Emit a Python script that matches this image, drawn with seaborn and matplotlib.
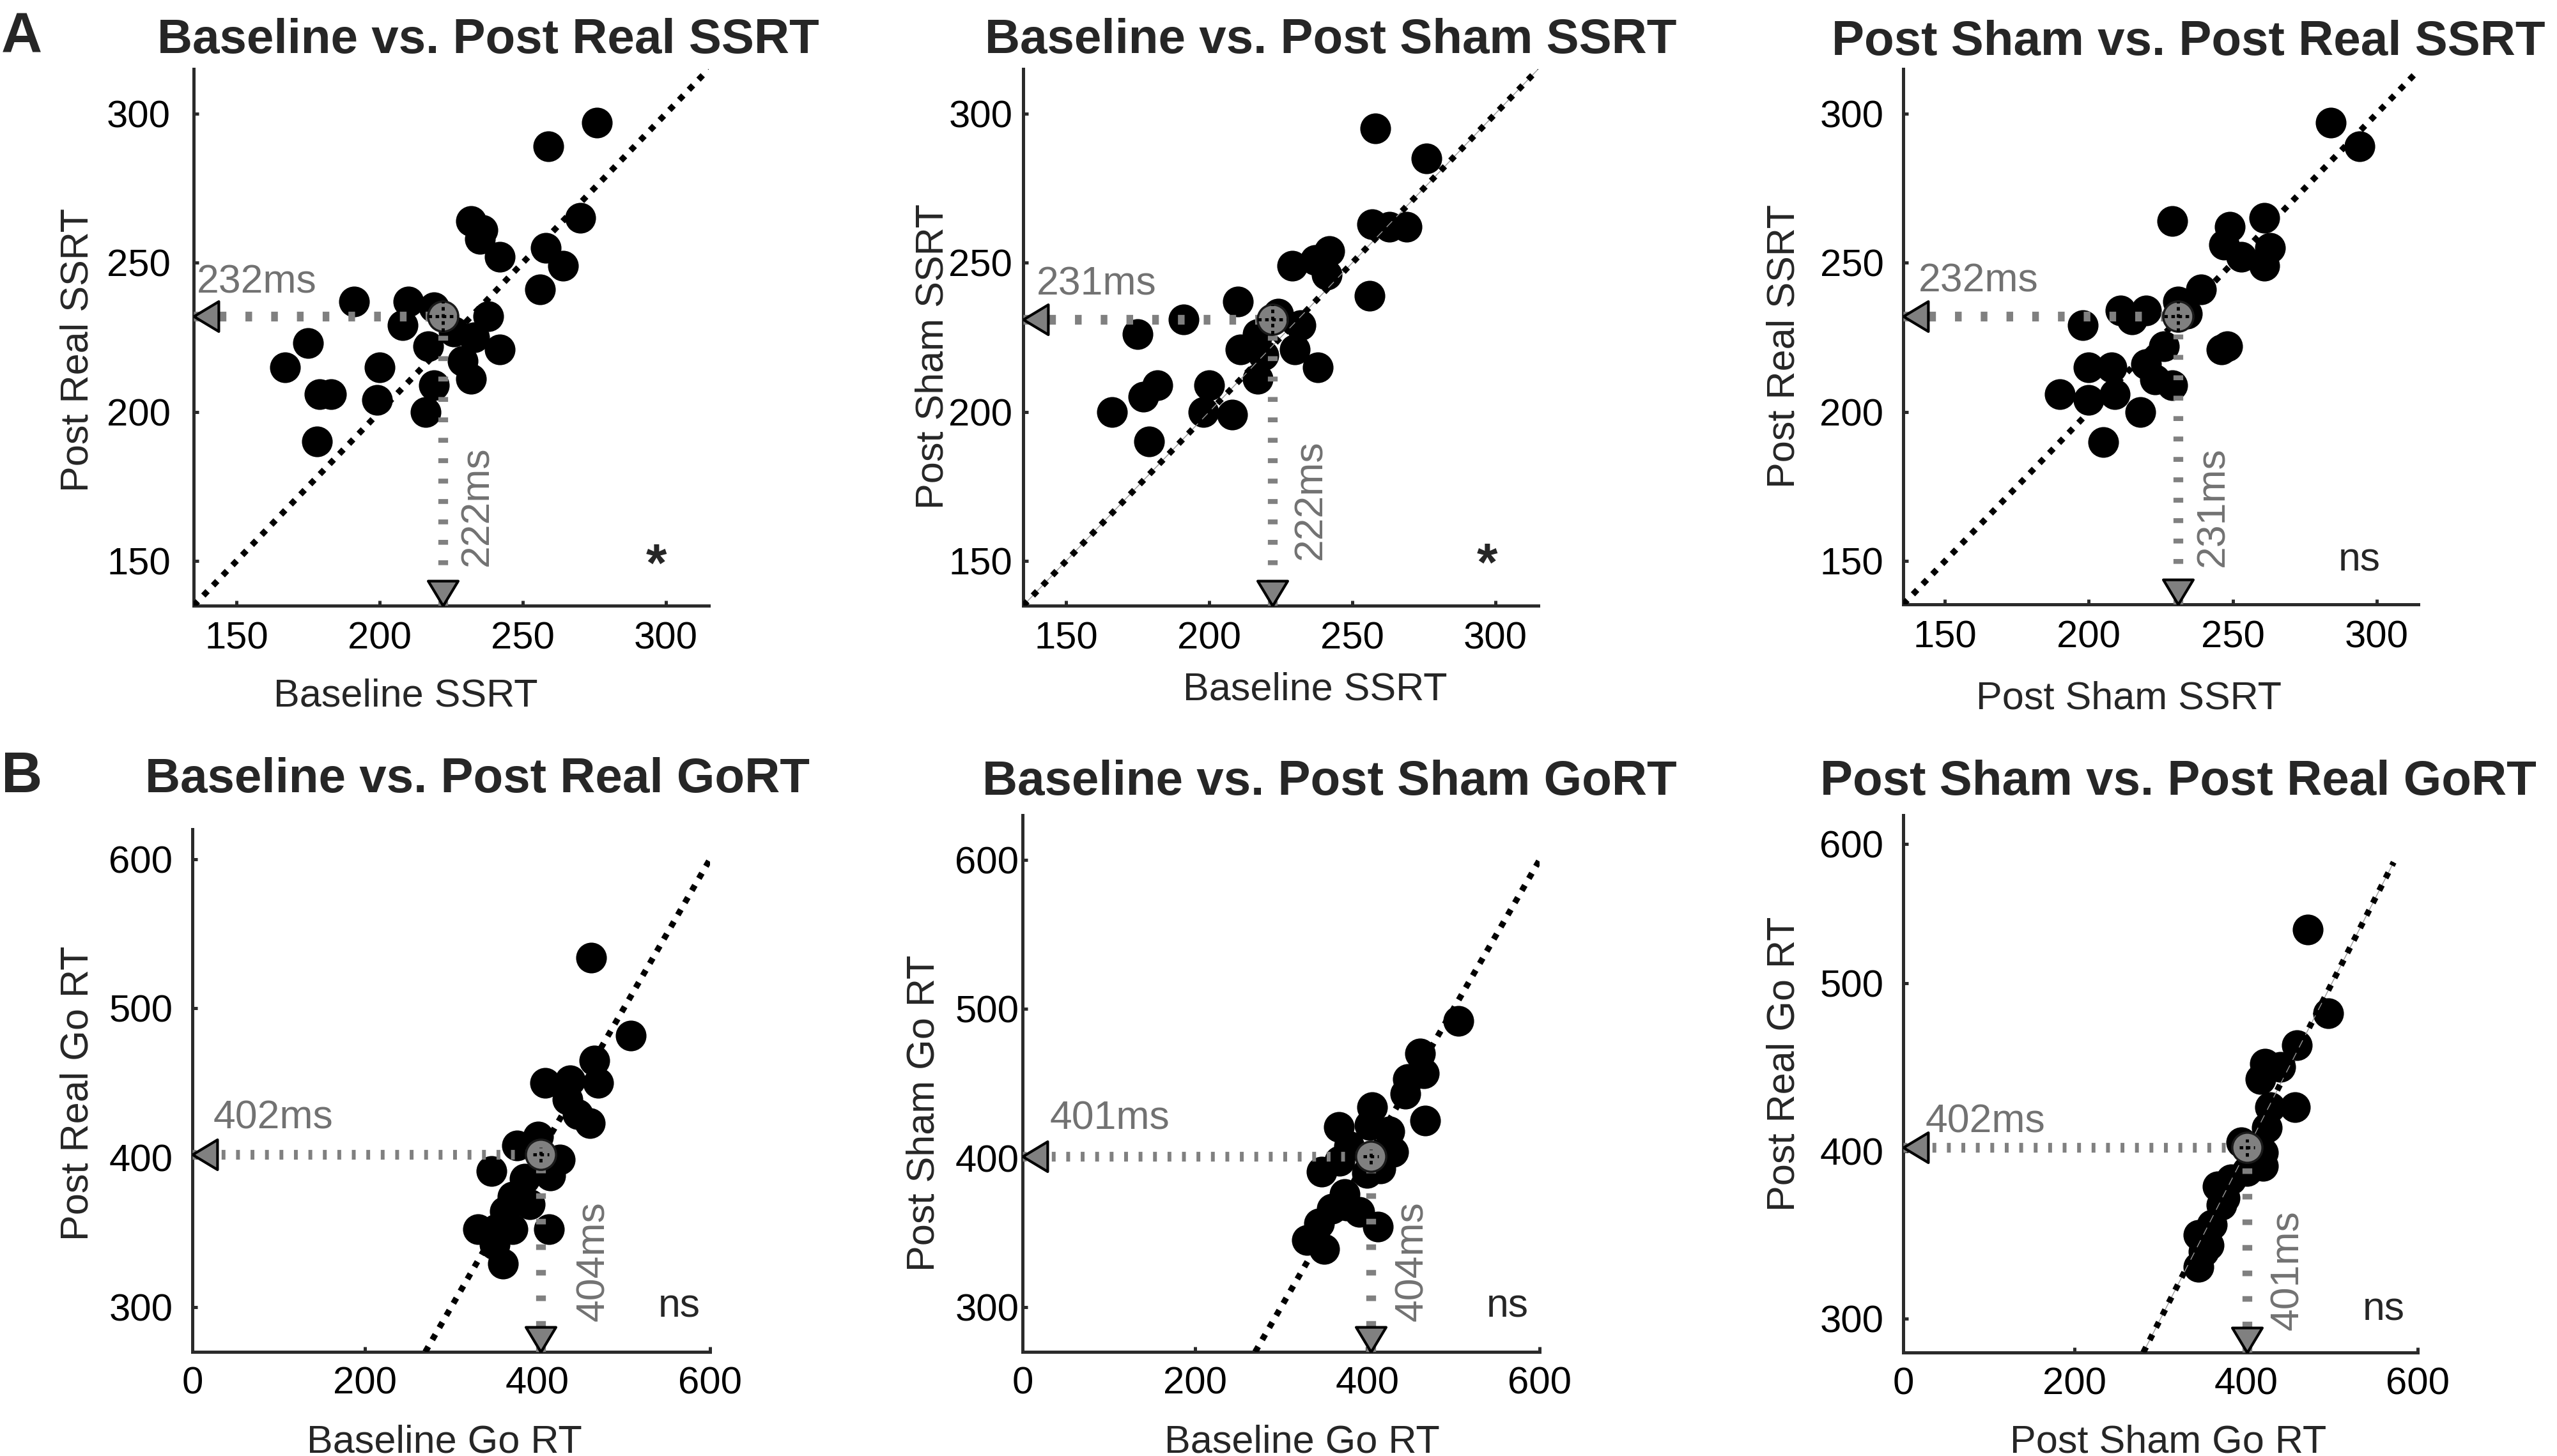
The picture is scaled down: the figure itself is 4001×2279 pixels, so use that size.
import numpy as np
import pandas as pd
import matplotlib
matplotlib.use("Agg")
import matplotlib.pyplot as plt
import seaborn as sns

sns.set_style("ticks")
plt.rcParams['font.family'] = ['Liberation Sans', 'DejaVu Sans']
plt.rcParams['lines.scale_dashes'] = False

# ---------------- data (ms) ----------------
# row A : SSRT
a1_base = [276, 259, 232, 236, 235, 242, 270, 258, 264, 256, 191, 210, 208, 219, 238,
           217, 175, 167, 200, 179, 183, 199, 178, 216, 219, 233, 229, 232, 242, 226]
a1_real = [297, 289, 264, 261, 258, 252, 265, 255, 249, 241, 237, 237, 229, 235, 232,
           222, 223, 215, 215, 206, 206, 204, 190, 200, 209, 225, 217, 211, 221, 227]
a2_base = [258, 276, 257, 263, 269, 242, 237, 229, 241, 256, 210, 191, 175, 232,
           230, 217, 211, 217, 238, 182, 177, 166, 200, 198, 208, 179, 224, 219]
a2_sham = [295, 285, 263, 262, 262, 254, 251, 249, 246, 239, 237, 231, 226, 229,
           221, 226, 221, 211, 215, 209, 205, 200, 209, 200, 199, 190, 233, 219]
a3_sham = [284, 294, 229, 261, 249, 247, 253, 263, 261, 239, 231, 198, 211, 215, 220,
           226, 248, 246, 200, 208, 220, 223, 229, 190, 200, 209, 218, 205, 234]
a3_real = [297, 289, 264, 265, 262, 256, 252, 255, 249, 241, 237, 229, 234, 231, 234,
           222, 222, 221, 215, 215, 216, 211, 209, 206, 204, 206, 200, 190, 233]
# row B : Go RT
b1_base = [462, 508, 466, 470, 409, 438, 435, 447, 461, 376, 401, 426, 347, 415, 385,
           371, 362, 331, 371, 413, 350, 360, 352, 391, 405]
b1_real = [534, 482, 465, 450, 450, 452, 439, 429, 423, 408, 414, 399, 391, 388, 386,
           374, 364, 352, 352, 352, 342, 329, 352, 369, 400]
b2_base = [506, 461, 466, 447, 444, 406, 467, 367, 426, 403, 347, 415, 379, 374, 359,
           391, 412, 344, 330, 350, 376, 368, 430, 400]
b2_sham = [492, 470, 457, 453, 443, 434, 425, 421, 418, 422, 391, 393, 408, 376, 366,
           364, 354, 356, 345, 339, 368, 398, 404, 390]
b3_sham = [472, 496, 459, 422, 417, 440, 457, 428, 424, 420, 420, 394, 367, 371, 360,
           344, 356, 344, 382, 401, 350, 375]
b3_real = [532, 482, 463, 452, 443, 450, 426, 426, 414, 399, 391, 405, 379, 368, 356,
           350, 344, 331, 383, 388, 340, 372]

xs = [a1_base, a2_base, a3_sham, b1_base, b2_base, b3_sham]
ys = [a1_real, a2_sham, a3_real, b1_real, b2_sham, b3_real]

mean_x = [222, 222, 231, 404, 404, 401]
mean_y = [232, 231, 232, 402, 401, 402]
sem_x = [5, 5, 5, 9, 9, 9]
sem_y = [5, 5, 5, 5, 5, 5]
stats = ['*', '*', 'ns', 'ns', 'ns', 'ns']

titles = ['Baseline vs. Post Real SSRT', 'Baseline vs. Post Sham SSRT',
          'Post Sham vs. Post Real SSRT', 'Baseline vs. Post Real GoRT',
          'Baseline vs. Post Sham GoRT', 'Post Sham vs. Post Real GoRT']
xlabels = ['Baseline SSRT', 'Baseline SSRT', 'Post Sham SSRT',
           'Baseline Go RT', 'Baseline Go RT', 'Post Sham Go RT']
ylabels = ['Post Real SSRT', 'Post Sham SSRT', 'Post Real SSRT',
           'Post Real Go RT', 'Post Sham Go RT', 'Post Real Go RT']

ssrt_ticks = [150, 200, 250, 300]
gort_xticks = [0, 200, 400, 600]
gort_yticks = [300, 400, 500, 600]

# ---------------- layout (pixels of the 4001x2279 canvas) ----------------
W, H = 4001, 2279
def fx(px):
    return px / W
def fy(py):
    return 1 - py / H

axes_px = [(303, 108, 1109, 948), (1601, 108, 2407, 948), (2978, 108, 3784, 946),
           (301, 1298, 1111, 2116), (1600, 1276, 2409, 2116), (2978, 1276, 3783, 2117)]
xlims = [(135, 315), (135, 315), (135.5, 314.5), (0, 600), (0, 600), (0, 600)]
ylims = [(135, 315), (135, 315), (135.5, 315), (270, 620), (270, 630), (280, 600)]
diag = [(135, 315), (135, 315), (135.5, 314.5), (270, 600), (270, 600), (280, 572)]
diag_thin = [False, True, False, False, False, True]
ytick_pos = [ssrt_ticks] * 3 + [gort_yticks, gort_yticks, [300, 400, 500, 583]]
ytick_pad = [26, 12, 22, 22, 4, 22]

title_px = [(764, 83), (2082, 83), (3424, 86), (747, 1240), (2080, 1244), (3408, 1244)]
xlabel_px = [(635, 1106), (2058, 1095), (3331, 1110), (695, 2273), (2037, 2273), (3393, 2273)]
ylabel_px = [(138, 548), (1475, 558), (2808, 542), (138, 1711), (1462, 1742), (2808, 1665)]
hlab_xy = [(136.2, 239.8), (139.7, 239.2), (140.8, 240.3), (24.5, 419.4), (31.9, 419.4), (25.5, 411.1)]
vlab_xy = [(237.9, 148.2), (239.1, 150.5), (246.8, 148.2), (477, 290.6), (464, 290.6), (461, 293.4)]
stat_xy = [(296.7, 143.1), (297.1, 143.4), (294, 146.8), (564, 293.2), (563, 293.2), (560, 299.2)]
# gray guide dashes (on, off) in points: horizontal, vertical
h_dash = [(7.5, 21.5), (7.5, 21.5), (7.5, 21.5), (4.3, 12), (4.3, 12), (4.3, 12)]
v_dash = [(5.5, 17.5), (5.5, 17.5), (5.5, 17.5), (6.3, 22.5), (6.3, 22.5), (6.3, 22.5)]

GRAY = '#808080'
TXT_GRAY = '#727272'
SPINE = '#2b2b2b'

left_tri = [(0, 0), (1.66, 1), (1.66, -1), (0, 0)]
down_tri = [(0, 0), (1, 1.66), (-1, 1.66), (0, 0)]

fig = plt.figure(figsize=(W / 100, H / 100), dpi=100)

for i in range(6):
    l, t, r, b = axes_px[i]
    ax = fig.add_axes([fx(l), fy(b), (r - l) / W, (b - t) / H])
    df = pd.DataFrame({'x': xs[i], 'y': ys[i]})
    sns.scatterplot(data=df, x='x', y='y', ax=ax, s=1200, color='black',
                    linewidth=0, zorder=2, legend=False)

    d0, d1 = diag[i]
    if diag_thin[i]:
        ax.plot([d0, d1], [d0, d1], color='#9a9a9a', lw=1.0, zorder=3)
    ax.plot([d0, d1], [d0, d1], color='black', lw=6.8, linestyle=(0, (6.8, 9)),
            dash_capstyle='butt', zorder=3)

    x0, y0 = xlims[i][0], ylims[i][0]
    mx, my = mean_x[i], mean_y[i]
    ax.plot([x0, mx], [my, my], color=GRAY, lw=11, linestyle=(0, h_dash[i]),
            dash_capstyle='butt', zorder=4)
    ax.plot([mx, mx], [y0, my], color=GRAY, lw=11, linestyle=(0, v_dash[i]),
            dash_capstyle='butt', zorder=4)

    ax.plot([mx], [my], marker='o', markersize=34, markerfacecolor=GRAY,
            markeredgecolor='#1a1a1a', markeredgewidth=2.5, zorder=5)
    ax.plot([mx - sem_x[i], mx + sem_x[i]], [my, my], color='black', lw=3.5,
            linestyle=(0, (4, 4)), dash_capstyle='butt', zorder=6)
    ax.plot([mx, mx], [my - sem_y[i], my + sem_y[i]], color='black', lw=3.5,
            linestyle=(0, (4, 4)), dash_capstyle='butt', zorder=6)

    ax.plot([x0], [my], marker=left_tri, markersize=56, markerfacecolor=GRAY,
            markeredgecolor='black', markeredgewidth=3, clip_on=False, zorder=7)
    ax.plot([mx], [y0], marker=down_tri, markersize=56, markerfacecolor=GRAY,
            markeredgecolor='black', markeredgewidth=3, clip_on=False, zorder=7)

    ax.text(hlab_xy[i][0], hlab_xy[i][1], '%dms' % my, color=TXT_GRAY, fontsize=45,
            ha='left', va='baseline', zorder=8)
    ax.text(vlab_xy[i][0], vlab_xy[i][1], '%dms' % mx, color=TXT_GRAY, fontsize=45,
            rotation=90, rotation_mode='anchor', ha='left', va='baseline', zorder=8)
    if stats[i] == '*':
        ax.text(stat_xy[i][0], stat_xy[i][1], '*', fontsize=60, fontweight='bold',
                ha='center', va='baseline')
    else:
        ax.text(stat_xy[i][0], stat_xy[i][1], 'ns', fontsize=45,
                ha='center', va='baseline')

    ax.set_xlim(*xlims[i])
    ax.set_ylim(*ylims[i])
    if i < 3:
        ax.set_xticks(ssrt_ticks)
        ax.set_yticks(ssrt_ticks)
    else:
        ax.set_xticks(gort_xticks)
        ax.set_yticks(ytick_pos[i])
        ax.set_yticklabels([str(v) for v in gort_yticks])
    ax.set_xlabel('')
    ax.set_ylabel('')
    sns.despine(ax=ax)
    for side in ['left', 'bottom']:
        ax.spines[side].set_linewidth(3.6)
        ax.spines[side].set_color(SPINE)
    ax.tick_params(axis='both', direction='in', length=6, width=3.6, color=SPINE,
                   labelsize=43, labelcolor='black')
    ax.tick_params(axis='y', pad=ytick_pad[i])
    ax.tick_params(axis='x', pad=18 if i < 3 else 16)
    ax.set_facecolor('none')

    fig.text(fx(title_px[i][0]), fy(title_px[i][1]), titles[i], fontsize=55,
             fontweight='bold', ha='center', va='baseline')
    fig.text(fx(xlabel_px[i][0]), fy(xlabel_px[i][1]), xlabels[i], fontsize=44,
             ha='center', va='baseline')
    fig.text(fx(ylabel_px[i][0]), fy(ylabel_px[i][1]), ylabels[i], fontsize=44,
             rotation=90, rotation_mode='anchor', ha='center', va='baseline')

fig.text(fx(2), fy(83), 'A', fontsize=64, fontweight='bold', ha='left', va='baseline')
fig.text(fx(2), fy(1240), 'B', fontsize=64, fontweight='bold', ha='left', va='baseline')

fig.savefig('out.png', dpi=100, facecolor='white')
